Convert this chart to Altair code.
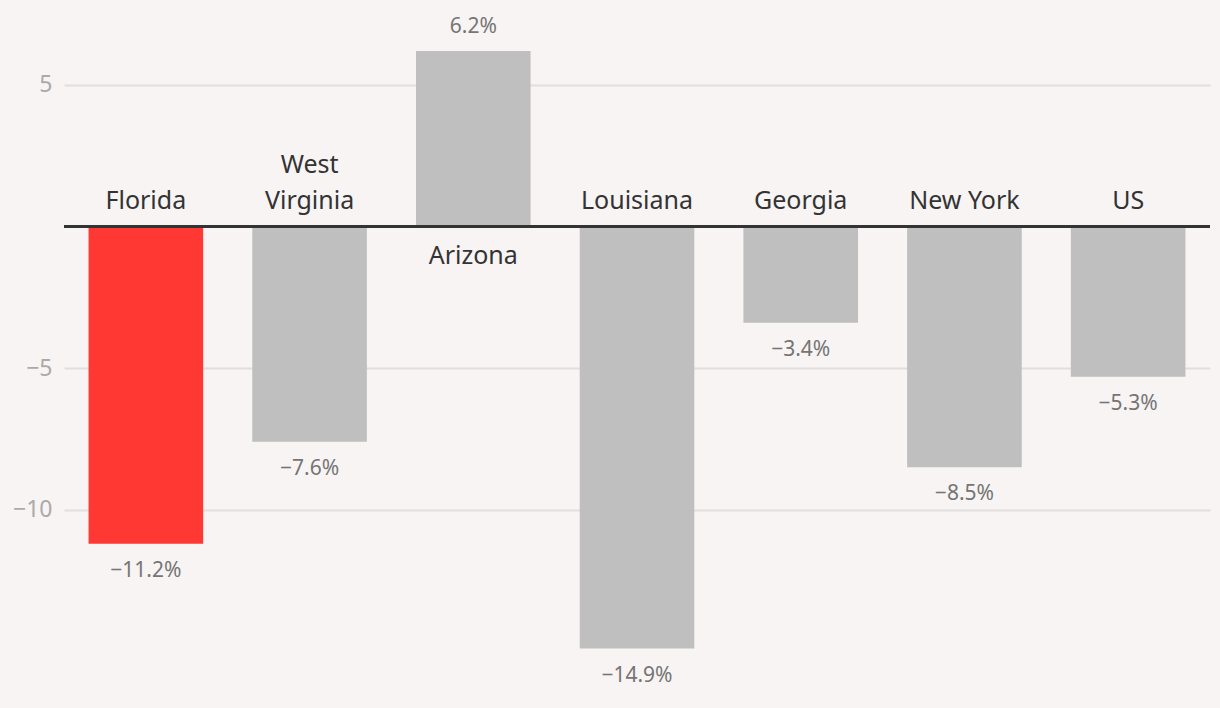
import altair as alt
import pandas as pd

states = ["Florida", "West Virginia", "Arizona", "Louisiana", "Georgia", "New York", "US"]
name_top = ["", "West", "", "", "", "", ""]
name_bottom = ["Florida", "Virginia", "Arizona", "Louisiana", "Georgia", "New York", "US"]
values = [-11.2, -7.6, 6.2, -14.9, -3.4, -8.5, -5.3]
highlight = ["Florida"]
y_ticks = [-10, -5, 5]

def fmt(v):
    s = f"{abs(v):.1f}%"
    return ("\u2212" + s) if v < 0 else s

df = pd.DataFrame({
    "state": states,
    "top": name_top,
    "bottom": name_bottom,
    "value": values,
    "label": [fmt(v) for v in values],
    "hl": ["yes" if s in highlight else "no" for s in states],
    "zero": [0] * len(states),
})

FONT = "Noto Sans"
x = alt.X("state:N", sort=states, axis=None,
          scale=alt.Scale(paddingInner=0.3, paddingOuter=0.15))
yscale = alt.Scale(domain=[-17, 8], nice=False, zero=False)

base = alt.Chart(df)

bars = base.mark_bar().encode(
    x=x,
    y=alt.Y("value:Q", scale=yscale, title=None,
            axis=alt.Axis(values=y_ticks, domain=False, ticks=False,
                          labelColor="#aaaaaa", labelFontSize=23, labelFont=FONT,
                          labelPadding=12, gridColor="#e2dedd", gridWidth=2,
                          labelExpr="replace(datum.label, '-', '\u2212')")),
    y2=alt.Y2("zero:Q"),
    color=alt.Color("hl:N", scale=alt.Scale(domain=["yes", "no"], range=["#ff3833", "#bfbfbf"]), legend=None),
)

zero_rule = base.mark_rule(color="#333333", strokeWidth=2).encode(
    y=alt.Y("zero:Q", scale=yscale),
    x=alt.value(0), x2=alt.value(1146),
)

name_style = dict(fontSize=25, font=FONT, color="#333333")

neg_names = base.transform_filter("datum.value < 0").mark_text(
    baseline="alphabetic", dy=-18, **name_style
).encode(x=x, y=alt.Y("zero:Q", scale=yscale), text="bottom:N")

neg_names_top = base.transform_filter("datum.value < 0 && datum.top != ''").mark_text(
    baseline="alphabetic", dy=-54, **name_style
).encode(x=x, y=alt.Y("zero:Q", scale=yscale), text="top:N")

pos_names = base.transform_filter("datum.value >= 0").mark_text(
    baseline="middle", dy=29, **name_style
).encode(x=x, y=alt.Y("zero:Q", scale=yscale), text="bottom:N")

neg_vals = base.transform_filter("datum.value < 0").mark_text(
    baseline="middle", dy=27, fontSize=21, font=FONT, color="#757575"
).encode(x=x, y=alt.Y("value:Q", scale=yscale), text="label:N")

pos_vals = base.transform_filter("datum.value >= 0").mark_text(
    baseline="middle", dy=-24, fontSize=21, font=FONT, color="#757575"
).encode(x=x, y=alt.Y("value:Q", scale=yscale), text="label:N")

chart = alt.layer(bars, zero_rule, neg_names, neg_names_top, pos_names, neg_vals, pos_vals).properties(
    width=1146, height=708,
    padding={"left": 64, "top": 0, "right": 10, "bottom": 0},
    autosize=alt.AutoSizeParams(type="none"),
    background="#f7f4f3",
).configure_view(stroke=None)

chart.save("out.html", embed_options={"renderer": "svg", "actions": False})
